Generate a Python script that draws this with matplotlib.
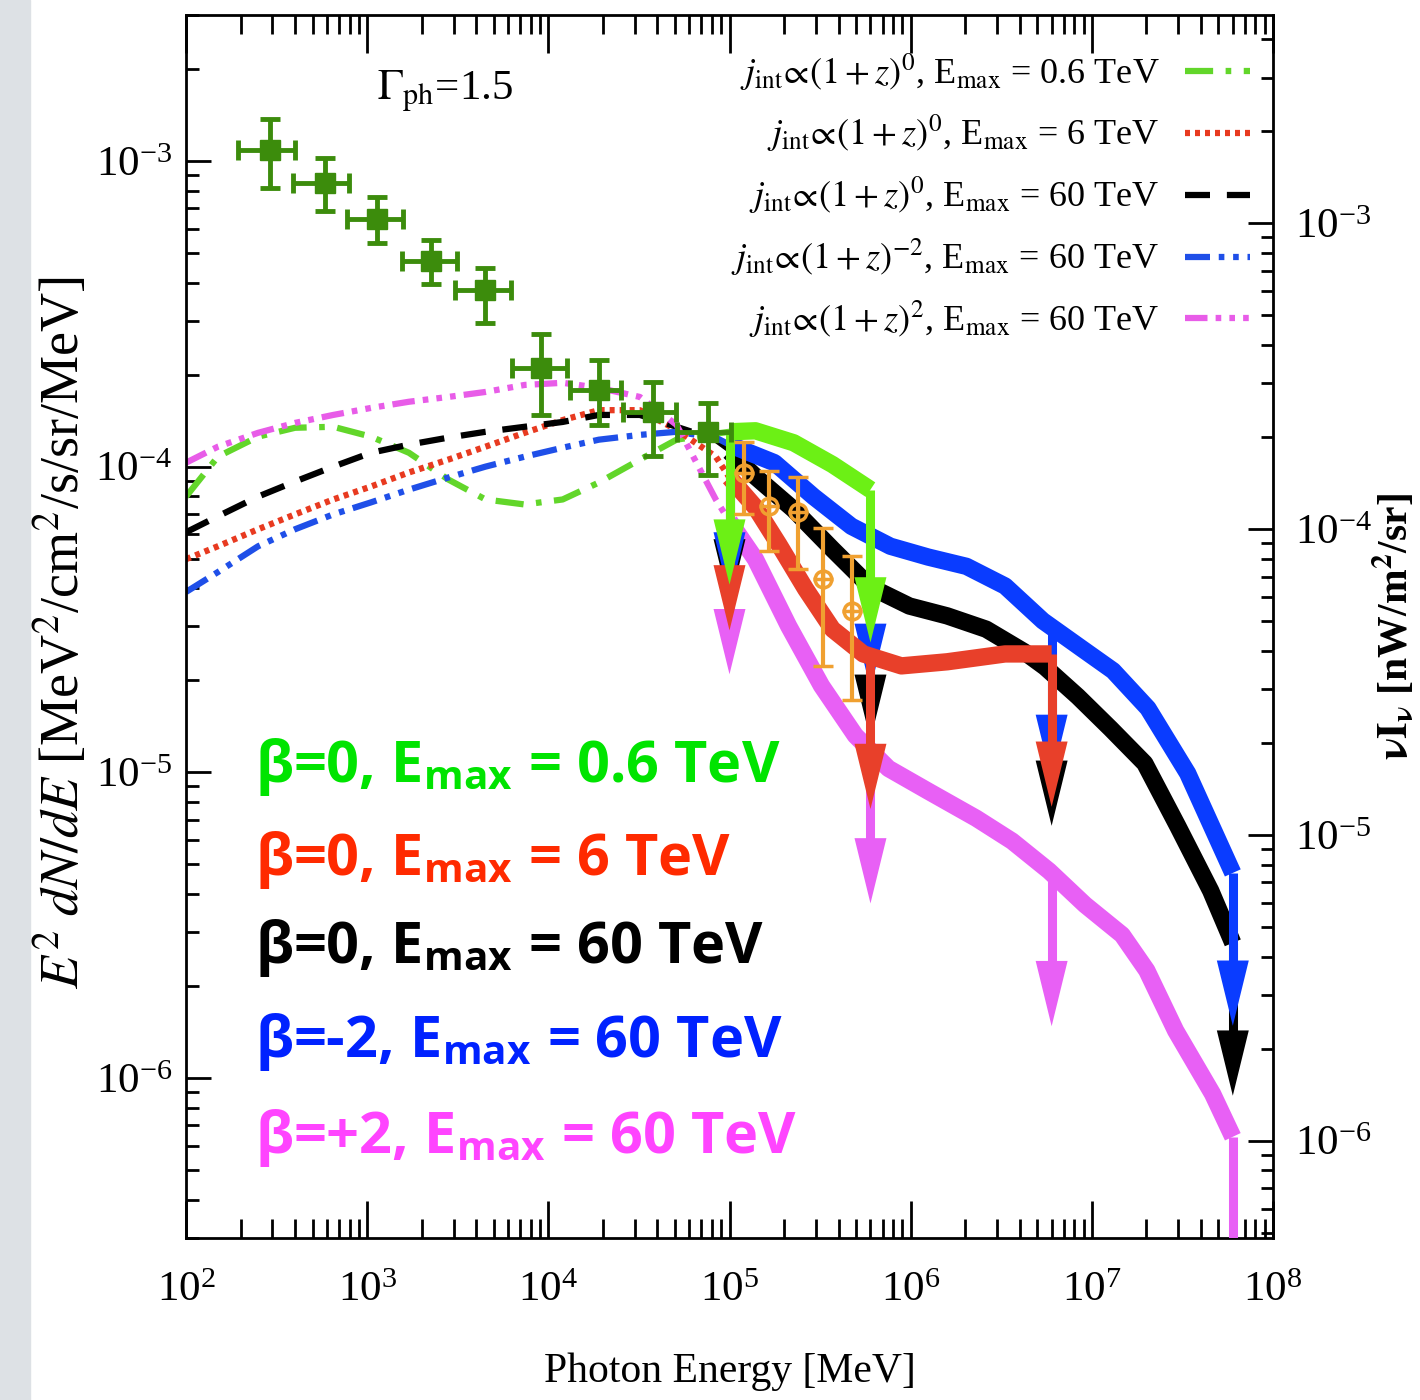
import matplotlib
matplotlib.use("Agg")
import matplotlib.pyplot as plt
from matplotlib.patches import Rectangle, ArrowStyle
import numpy as np

plt.rcParams['font.family'] = 'serif'
plt.rcParams['font.serif'] = ['Liberation Serif', 'DejaVu Serif']
plt.rcParams['mathtext.fontset'] = 'stix'

# -----------------------------
# Fermi-LAT points (MeV, MeV/cm2/s/sr)
# -----------------------------
fermi_E = [290, 582, 1140, 2260, 4490, 9120, 19000, 37800, 75900]
fermi_E_lo = [193, 388, 770, 1550, 3070, 6320, 13200, 25800, 51200]
fermi_E_hi = [398, 790, 1585, 3150, 6240, 12700, 25200, 50600, 102000]
fermi_F = [1.086e-3, 8.48e-4, 6.47e-4, 4.69e-4, 3.77e-4, 2.10e-4, 1.78e-4, 1.51e-4, 1.30e-4]
fermi_F_lo = [8.17e-4, 6.88e-4, 5.37e-4, 3.95e-4, 2.94e-4, 1.48e-4, 1.37e-4, 1.08e-4, 9.42e-5]
fermi_F_hi = [1.37e-3, 1.023e-3, 7.63e-4, 5.53e-4, 4.48e-4, 2.71e-4, 2.23e-4, 1.89e-4, 1.61e-4]

# high energy points
hess_E = [1.20e5, 1.66e5, 2.38e5, 3.30e5, 4.77e5]
hess_F = [9.56e-5, 7.41e-5, 7.13e-5, 4.28e-5, 3.37e-5]
hess_F_lo = [6.98e-5, 5.29e-5, 4.61e-5, 2.23e-5, 1.72e-5]
hess_F_hi = [1.20e-4, 9.64e-5, 9.27e-5, 6.32e-5, 5.09e-5]

# -----------------------------
# model curves below 100 GeV (thin, styled)
# -----------------------------
E_low = [100, 150, 250, 400, 650, 1050, 1700, 2800, 4500, 7400,
         1.2e4, 1.9e4, 3.2e4, 5.1e4, 8.4e4, 1e5]
green_low = [7.98e-5, 1.078e-4, 1.253e-4, 1.34e-4, 1.35e-4, 1.253e-4, 1.11e-4, 9.08e-5,
             7.81e-5, 7.52e-5, 7.81e-5, 8.87e-5, 1.054e-4, 1.225e-4, 1.282e-4, 1.30e-4]
red_low = [4.98e-5, 5.49e-5, 6.24e-5, 6.98e-5, 7.81e-5, 8.61e-5, 9.57e-5, 1.054e-4,
           1.162e-4, 1.29e-4, 1.42e-4, 1.53e-4, 1.53e-4, 1.32e-4, 1.078e-4, 9.21e-5]
black_low = [6.10e-5, 6.88e-5, 7.98e-5, 8.94e-5, 1.00e-4, 1.11e-4, 1.18e-4, 1.244e-4,
             1.30e-4, 1.35e-4, 1.40e-4, 1.476e-4, 1.476e-4, 1.35e-4, 1.225e-4, 1.136e-4]
blue_low = [3.89e-5, 4.52e-5, 5.49e-5, 6.24e-5, 6.98e-5, 7.64e-5, 8.41e-5, 9.21e-5,
            1.00e-4, 1.078e-4, 1.153e-4, 1.225e-4, 1.27e-4, 1.30e-4, 1.244e-4, 1.18e-4]
magenta_low = [1.03e-4, 1.162e-4, 1.29e-4, 1.39e-4, 1.476e-4, 1.556e-4, 1.63e-4, 1.69e-4,
               1.755e-4, 1.85e-4, 1.88e-4, 1.81e-4, 1.69e-4, 1.37e-4, 7.81e-5, 6.62e-5]

# -----------------------------
# model curves above 100 GeV (thick)
# -----------------------------
green_E = [1e5, 1.39e5, 2.26e5, 3.70e5, 6.0e5]
green_F = [1.30e-4, 1.31e-4, 1.197e-4, 1.016e-4, 8.41e-5]

red_E = [1e5, 1.39e5, 1.87e5, 2.63e5, 3.70e5, 5.48e5, 8.89e5, 1.59e6, 3.32e6, 6.0e6]
red_F = [9.21e-5, 7.36e-5, 5.57e-5, 3.98e-5, 2.94e-5, 2.44e-5, 2.23e-5, 2.30e-5, 2.44e-5, 2.44e-5]

blue_E = [1e5, 1.77e5, 2.91e5, 4.71e5, 7.73e5, 1.25e6, 2.03e6, 3.32e6, 5.37e6, 8.81e6,
          1.31e7, 2.04e7, 3.38e7, 6.0e7]
blue_F = [1.18e-4, 1.03e-4, 7.98e-5, 6.38e-5, 5.49e-5, 5.06e-5, 4.72e-5, 4.07e-5, 3.13e-5,
          2.54e-5, 2.15e-5, 1.62e-5, 9.93e-6, 4.69e-6]

black_E = [1e5, 1.39e5, 2.26e5, 3.70e5, 6.0e5, 9.84e5, 1.59e6, 2.61e6, 4.23e6, 5.52e6,
           8.38e6, 1.27e7, 1.96e7, 2.98e7, 4.53e7, 6.0e7]
black_F = [1.12e-4, 9.28e-5, 7.24e-5, 5.37e-5, 4.04e-5, 3.50e-5, 3.25e-5, 2.94e-5, 2.48e-5,
           2.21e-5, 1.77e-5, 1.39e-5, 1.07e-5, 6.67e-6, 4.10e-6, 2.77e-6]

magenta_E = [1e5, 1.39e5, 2.12e5, 3.22e5, 4.95e5, 7.54e5, 1.25e6, 2.30e6, 3.63e6, 5.81e6,
             9.17e6, 1.47e7, 2.01e7, 2.90e7, 4.64e7, 6.0e7]
magenta_F = [6.62e-5, 4.98e-5, 3.01e-5, 1.92e-5, 1.32e-5, 1.03e-5, 8.68e-6, 7.08e-6, 5.96e-6,
             4.76e-6, 3.69e-6, 2.94e-6, 2.25e-6, 1.43e-6, 8.88e-7, 6.43e-7]

# energies where the down arrows sit
arrow_E = [1e5, 6e5, 6e6, 6e7]

legend_labels = [
    r"$j_{\rm int}\!\propto\!(1+z)^{0}$, E$_{\rm max}$ = 0.6 TeV",
    r"$j_{\rm int}\!\propto\!(1+z)^{0}$, E$_{\rm max}$ = 6 TeV",
    r"$j_{\rm int}\!\propto\!(1+z)^{0}$, E$_{\rm max}$ = 60 TeV",
    r"$j_{\rm int}\!\propto\!(1+z)^{-2}$, E$_{\rm max}$ = 60 TeV",
    r"$j_{\rm int}\!\propto\!(1+z)^{2}$, E$_{\rm max}$ = 60 TeV",
]
beta_labels = [
    r"β=0, E$_{\mathregular{max}}$ = 0.6 TeV",
    r"β=0, E$_{\mathregular{max}}$ = 6 TeV",
    r"β=0, E$_{\mathregular{max}}$ = 60 TeV",
    r"β=-2, E$_{\mathregular{max}}$ = 60 TeV",
    r"β=+2, E$_{\mathregular{max}}$ = 60 TeV",
]
beta_colors = ['#00e400', '#ff2a00', '#000000', '#0022ff', '#ff44ff']


fig = plt.figure(figsize=(14.2, 14), dpi=100)
fig.patches.append(Rectangle((0, 0), 30 / 1420, 1, transform=fig.transFigure,
                             color='#dde1e5', zorder=-1))
ax = fig.add_axes([186 / 1420, 162 / 1400, 1087 / 1420, 1223 / 1400])
ax.set_xscale('log')
ax.set_yscale('log')
ax.set_xlim(1e2, 1e8)
ax.set_ylim(3e-7, 3e-3)

# -----------------------------
# thin model lines
# -----------------------------
ax.plot(E_low, green_low, color='#62d62a', lw=4.5, ls=(0, (4.5, 2, 0.9, 2)),
        label=legend_labels[0], zorder=2)
ax.plot(E_low, red_low, color='#e83a20', lw=4.5, ls=(0, (0.8, 0.8)),
        label=legend_labels[1], zorder=2)
ax.plot(E_low, black_low, color='black', lw=4.5, ls=(0, (4, 2.7)),
        label=legend_labels[2], zorder=2)
ax.plot(E_low, blue_low, color='#1f4fe8', lw=4.5, ls=(0, (4, 1.4, 0.9, 1.4, 0.9, 1.4)),
        label=legend_labels[3], zorder=2)
ax.plot(E_low, magenta_low, color='#e85ce8', lw=4.5,
        ls=(0, (3.6, 1.3, 0.9, 1.3, 0.9, 1.3, 0.9, 1.3)),
        label=legend_labels[4], zorder=2)

# -----------------------------
# thick model lines with down arrows
# -----------------------------
head = ArrowStyle('-|>', head_length=4.7, head_width=1.15)


def draw_model(E, F, color, z):
    ax.plot(E, F, color=color, lw=12.5, solid_capstyle='butt',
            solid_joinstyle='round', zorder=z)
    for Ec in arrow_E:
        if Ec > E[-1] * 1.01:
            continue
        Fc = 10 ** np.interp(np.log10(Ec), np.log10(E), np.log10(F))
        tip = Fc / 10 ** 0.5
        ax.plot([Ec, Ec], [Fc, tip * 1.3], color=color, lw=6.5,
                solid_capstyle='butt', zorder=z)
        ax.annotate('', xy=(Ec, tip), xytext=(Ec, tip * 2.0),
                    arrowprops=dict(arrowstyle=head, mutation_scale=10, lw=0,
                                    color=color, shrinkA=0, shrinkB=0),
                    zorder=z)


draw_model(magenta_E, magenta_F, '#e860f5', 3.0)
draw_model(black_E, black_F, 'black', 3.1)
draw_model(blue_E, blue_F, '#0a3cff', 3.2)
draw_model(red_E, red_F, '#e8402a', 3.3)
draw_model(green_E, green_F, '#6cf015', 3.4)

# -----------------------------
# data points
# -----------------------------
fE = np.array(fermi_E)
fF = np.array(fermi_F)
ax.errorbar(fE, fF,
            xerr=[fE - np.array(fermi_E_lo), np.array(fermi_E_hi) - fE],
            yerr=[fF - np.array(fermi_F_lo), np.array(fermi_F_hi) - fF],
            fmt='s', ms=14, color='#3c8c0c', elinewidth=3.5, capsize=7,
            capthick=3.5, zorder=6)

hE = np.array(hess_E)
hF = np.array(hess_F)
ax.errorbar(hE, hF,
            yerr=[hF - np.array(hess_F_lo), np.array(hess_F_hi) - hF],
            fmt='o', ms=12, mfc='none', mec='#f0a030', mew=2.5,
            ecolor='#f0a030', elinewidth=3, capsize=7, capthick=3, zorder=5)
ax.plot(hE, hF, '+', ms=14, mew=2.5, color='#f0a030', zorder=5)

# -----------------------------
# axes, ticks, labels
# -----------------------------
for s in ax.spines.values():
    s.set_linewidth(2)
ax.tick_params(axis='x', which='major', direction='in', length=27, width=2,
               top=True, pad=24, labelsize=31)
ax.tick_params(axis='x', which='minor', direction='in', length=14, width=2, top=True)
ax.tick_params(axis='y', which='major', direction='in', length=18, width=2,
               right=False, pad=10, labelsize=31)
ax.tick_params(axis='y', which='minor', direction='in', length=9, width=2, right=False)

sec = ax.secondary_yaxis('right', functions=(lambda y: y * 1.602, lambda y: y / 1.602))
sec.tick_params(axis='y', which='major', direction='in', length=18, width=2,
                pad=16, labelsize=31)
sec.tick_params(axis='y', which='minor', direction='in', length=9, width=2)
sec.set_ylabel(r"$\mathbf{\nu I_\nu}$ [nW/m$^\mathbf{2}$/sr]", fontsize=30,
               fontweight='bold')
sec.yaxis.set_label_coords(1.090, 0.5, transform=ax.transAxes)

ax.set_xlabel("Photon Energy [MeV]", fontsize=30)
ax.xaxis.set_label_coords(0.5, -0.094)
ax.set_ylabel(r"$E^2\ dN/dE$ [MeV$^2$/cm$^2$/s/sr/MeV]", fontsize=39)
ax.yaxis.set_label_coords(-0.087, 0.495)

ax.text(0.238, 0.930, r"$\Gamma_{\rm ph}$=1.5", transform=ax.transAxes,
        ha='center', va='baseline', fontsize=31)

leg = ax.legend(loc='upper right', bbox_to_anchor=(1.005, 0.994), frameon=False,
                markerfirst=False, fontsize=26, handlelength=1.8,
                handletextpad=0.7, labelspacing=0.57, borderpad=0.3)
for t in leg.get_texts():
    t.set_ha('right')

# big coloured annotations
beta_y = [0.3729, 0.2968, 0.2249, 0.148, 0.0695]
for lab, col, yy in zip(beta_labels, beta_colors, beta_y):
    ax.text(0.0635, yy, lab, transform=ax.transAxes, color=col,
            fontsize=41.5, fontweight='bold', family='Open Sans',
            ha='left', va='baseline', zorder=8)

fig.savefig('out.png', dpi=100)
